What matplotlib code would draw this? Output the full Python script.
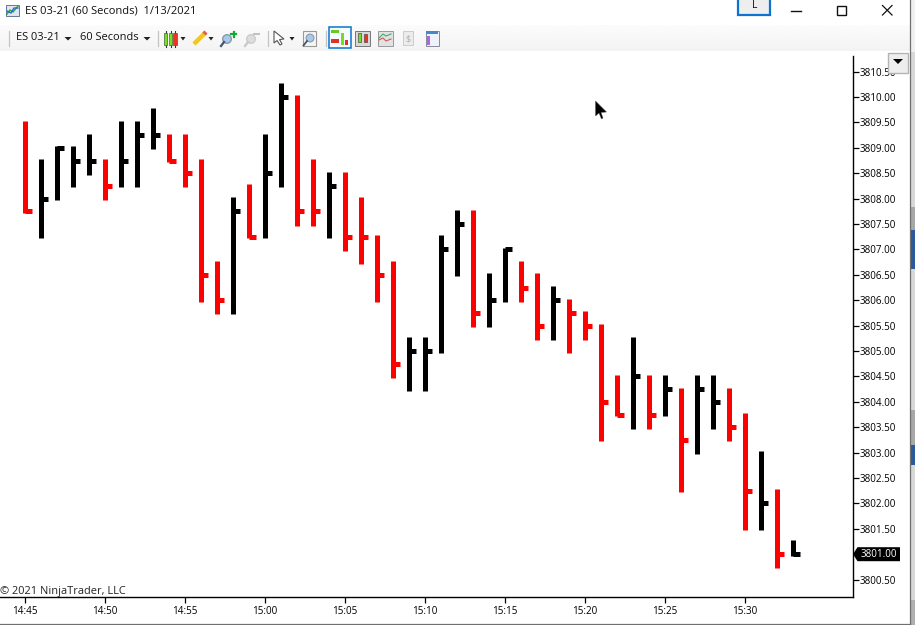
#!/usr/bin/python3
import matplotlib
matplotlib.use("Agg")
import matplotlib.pyplot as plt
import matplotlib.patches as patches
import numpy as np

# ES 03-21 one minute bars, 14:45 to 15:33
highs = [3809.50, 3808.75, 3809.00, 3809.00, 3809.25, 3808.75, 3809.50, 3809.50, 3809.75, 3809.25,
         3809.25, 3808.75, 3806.75, 3808.00, 3808.25, 3809.25, 3810.25, 3810.00, 3808.75, 3808.50,
         3808.50, 3808.00, 3807.25, 3806.75, 3805.25, 3805.25, 3807.25, 3807.75, 3807.75, 3806.50,
         3807.00, 3806.75, 3806.50, 3806.25, 3806.00, 3805.75, 3805.50, 3804.50, 3805.25, 3804.50,
         3804.50, 3804.25, 3804.50, 3804.50, 3804.25, 3803.75, 3803.00, 3802.25, 3801.25]
lows = [3807.75, 3807.25, 3808.00, 3808.25, 3808.50, 3808.00, 3808.25, 3808.25, 3809.00, 3808.75,
        3808.25, 3806.00, 3805.75, 3805.75, 3807.25, 3807.25, 3808.25, 3807.50, 3807.50, 3807.25,
        3807.00, 3806.75, 3806.00, 3804.50, 3804.25, 3804.25, 3805.00, 3806.50, 3805.50, 3805.50,
        3806.00, 3806.00, 3805.25, 3805.25, 3805.00, 3805.25, 3803.25, 3803.75, 3803.50, 3803.50,
        3803.75, 3802.25, 3803.00, 3803.50, 3803.25, 3801.50, 3801.50, 3800.75, 3801.00]
closes = [3807.75, 3808.00, 3809.00, 3808.75, 3808.75, 3808.25, 3808.75, 3809.25, 3809.25, 3808.75,
          3808.50, 3806.50, 3806.00, 3807.75, 3807.25, 3808.50, 3810.00, 3807.75, 3807.75, 3808.25,
          3807.25, 3807.25, 3806.50, 3804.75, 3805.00, 3805.00, 3807.00, 3807.50, 3805.75, 3806.00,
          3807.00, 3806.25, 3805.50, 3806.00, 3805.75, 3805.50, 3804.00, 3803.75, 3804.50, 3803.75,
          3804.25, 3803.25, 3804.25, 3804.00, 3803.50, 3802.25, 3802.00, 3801.00, 3801.00]
# 1 = up bar (black), 0 = down bar (red)
up = [0, 1, 1, 1, 1, 0, 1, 1, 1, 0,
      0, 0, 0, 1, 0, 1, 1, 0, 0, 1,
      0, 0, 0, 0, 1, 1, 1, 1, 0, 1,
      1, 0, 0, 1, 0, 0, 0, 0, 1, 0,
      1, 0, 1, 1, 0, 0, 1, 0, 1]
time_ticks = [0, 5, 10, 15, 20, 25, 30, 35, 40, 45]
time_labels = ["14:45", "14:50", "14:55", "15:00", "15:05", "15:10", "15:15", "15:20", "15:25", "15:30"]
price_ticks = [3800.5 + 0.5 * i for i in range(21)]
last_price = 3801.00

W, H = 915, 625
plt.rcParams['font.family'] = ['Open Sans', 'DejaVu Sans']
fig = plt.figure(figsize=(W / 100, H / 100), dpi=100, facecolor="white")

# price panel
ax = fig.add_axes([0, (H - 597) / H, 852.5 / W, (597 - 56) / H])
ax.set_xlim(-24.8 / 16, (852.5 - 24.8) / 16)
ax.set_ylim(3810 - (597 - 97) / 50.8, 3810 + (97 - 56) / 50.8)
minutes = np.arange(len(highs))
colors = ["black" if u else "#ff0000" for u in up]
# the platform paints bars a little past the price at both ends
end_pad = 0.03
ax.vlines(minutes, np.array(lows) - end_pad, np.array(highs) + end_pad, colors=colors, linewidth=3.6, capstyle="butt")
ax.hlines(closes, minutes, minutes + 0.42, colors=colors, linewidth=3.6, capstyle="butt")

for s in ["left", "top"]:
	ax.spines[s].set_visible(False)
for s in ["right", "bottom"]:
	ax.spines[s].set_linewidth(1.0)
ax.yaxis.tick_right()
ax.set_yticks(price_ticks)
ax.set_yticklabels(["%.2f" % p for p in price_ticks])
ax.set_xticks(time_ticks)
ax.set_xticklabels(time_labels)
ax.tick_params(axis="y", length=4, width=0.9, pad=1.2, labelsize=7.1)
ax.tick_params(axis="x", length=4, width=0.9, pad=2.5, labelsize=7.1)

# window chrome, drawn in pixel coordinates on top of the chart
ch = fig.add_axes([0, 0, 1, 1], facecolor="none")
ch.set_xlim(0, W)
ch.set_ylim(H, 0)
ch.axis("off")

def rect(x, y, w, h, fc, ec="none", lw=0, z=2):
	ch.add_patch(patches.Rectangle((x, y), w, h, facecolor=fc, edgecolor=ec, linewidth=lw, zorder=z))

def label(x, y, s, size=8.0, color="#111111", ha="left"):
	ch.text(x, y, s, fontsize=size, color=color, ha=ha, va="center", zorder=6)

def caret(x, y, w=3.5):
	ch.add_patch(patches.Polygon([(x - w, y - 1.5), (x + w, y - 1.5), (x, y + 2)], facecolor="#222222", zorder=5))

# title bar and toolbar
rect(0, 0, W, 25, "white")
ch.imshow(np.linspace(0.985, 0.955, 20).reshape(-1, 1), cmap="gray", vmin=0, vmax=1,
	extent=(0, 910, 51, 25), aspect="auto", zorder=1)
ch.set_xlim(0, W)
ch.set_ylim(H, 0)

# title icon
rect(6, 5, 13, 11, "#dfe6f2", "#667799", 0.7, 3)
ch.plot([7, 10, 13, 18], [14, 10, 12, 6], color="#22aa33", lw=1.0, zorder=4)
ch.plot([7, 11, 14, 18], [11, 13, 8, 8], color="#3366cc", lw=1.0, zorder=4)
label(25, 11, "ES 03-21 (60 Seconds)  1/13/2021", 8.0)

# L button and window buttons
rect(738, -2, 31.5, 16.5, "#eeeeee", "#0a74d0", 1.6, 3)
label(755, 6, "L", 7.5, ha="center")
ch.plot([791, 801], [10.5, 10.5], color="#111111", lw=1.0, zorder=4)
rect(836.5, 5.5, 9, 9, "none", "#111111", 1.0, 4)
ch.plot([882.5, 892], [5.5, 15], color="#111111", lw=0.9, zorder=4)
ch.plot([882.5, 892], [15, 5.5], color="#111111", lw=0.9, zorder=4)

# toolbar text and separators
for sx in [8.5, 157.5, 267.5, 325.5]:
	ch.plot([sx, sx], [31, 46], color="#c4c4c4", lw=0.9, zorder=3)
label(16, 38, "ES 03-21", 7.9)
caret(68, 38.5)
label(80, 38, "60 Seconds", 7.9)
caret(147, 38.5)

# candlestick icon
for cx, c in [(165.5, "#77e022"), (170.5, "#77e022"), (175, "#ee3322")]:
	ch.plot([cx, cx], [30.5, 46.5], color="#333333", lw=0.8, zorder=3)
	rect(cx - 1.8, 32.5, 3.6, 12, c, "#446633", 0.5, 4)
caret(183, 38.5, 2.5)
# pencil
ch.plot([194, 205], [44, 33], color="#f0c820", lw=3.2, solid_capstyle="butt", zorder=4)
ch.plot([204, 206], [34, 32], color="#e06050", lw=3.2, solid_capstyle="butt", zorder=4)
caret(211, 38.5, 2.5)
# zoom in and zoom out
ch.add_patch(patches.Circle((227, 39), 4.3, facecolor="#a8c8ec", edgecolor="#8899aa", lw=1.0, zorder=4))
ch.plot([224, 221], [42, 46], color="#445566", lw=1.6, zorder=4)
ch.plot([231, 236], [34, 34], color="#11aa33", lw=1.6, zorder=5)
ch.plot([233.5, 233.5], [31.5, 36.5], color="#11aa33", lw=1.6, zorder=5)
ch.add_patch(patches.Circle((251, 39), 4.3, facecolor="#dddddd", edgecolor="#cccccc", lw=1.0, zorder=4))
ch.plot([248, 245], [42, 46], color="#c8c8c8", lw=1.6, zorder=4)
ch.plot([254, 259], [33.5, 33.5], color="#c0c0c0", lw=1.4, zorder=5)
# pointer
ch.add_patch(patches.Polygon([(274, 31), (274, 43), (277, 40.5), (280, 45), (282, 44), (279.5, 39.5), (284, 39)],
	facecolor="white", edgecolor="#555555", lw=0.8, zorder=4))
caret(292, 38.5, 2.5)
# zoom box
rect(303, 31, 13, 15, "#f4f4f4", "#999999", 0.8, 3)
ch.add_patch(patches.Circle((310, 38), 3.9, facecolor="#a8c8ec", edgecolor="#8899aa", lw=0.8, zorder=4))
ch.plot([307, 303.5], [41, 45.5], color="#445566", lw=1.3, zorder=4)
# selected bar style icon
rect(328.5, 27, 22, 21, "#f6fbff", "#0a74d0", 1.1, 3)
rect(331, 30, 8, 3, "#66cc22", z=4)
rect(331, 39, 8, 3.5, "#dd3322", z=4)
rect(341, 33, 3, 12, "#77dd22", z=4)
rect(345, 40, 2.5, 5, "#dd3322", z=4)
# chart style icons
rect(354.5, 30.5, 15, 15, "#d8d8d8", "#777777", 0.7, 3)
rect(358, 33, 2.5, 9, "#77dd22", "#333333", 0.4, 4)
rect(364, 34, 2.5, 8, "#ee3322", "#333333", 0.4, 4)
rect(377.5, 30.5, 15, 15, "#dfe3e3", "#999999", 0.7, 3)
ch.plot([379, 383, 386, 391], [38, 34, 36, 34], color="#44aa66", lw=0.8, zorder=4)
ch.plot([379, 383, 386, 391], [40, 38, 41, 39], color="#dd5555", lw=0.8, zorder=4)
rect(403, 31, 10, 14, "#ececec", "#cccccc", 0.7, 3)
label(408, 38.5, "$", 6.5, "#aaaaaa", ha="center")
rect(425.5, 30.5, 13, 15, "#eef2fa", "#888899", 0.7, 3)
rect(426, 31, 12, 3, "#4488cc", z=4)
rect(427, 35.5, 3, 9, "#aa66ee", z=4)

# dropdown button over the price scale
rect(888, 52.5, 20, 20, "#eeeeee", "#b4b4b4", 1.0, 5)
ch.add_patch(patches.Polygon([(893, 59), (903, 59), (898, 64)], facecolor="black", zorder=6))

# mouse cursor
ch.add_patch(patches.Polygon([(595.5, 101), (595.5, 116), (599, 113), (601.5, 119), (603, 118), (601, 112.5), (606.5, 112)],
	facecolor="black", edgecolor="#555555", lw=0.3, zorder=6))

# copyright note
label(0, 591.5, "© 2021 NinjaTrader, LLC", 7.9, "#222222")

# last price marker follows the panel scale
tag_y = H - ax.transData.transform((0, last_price))[1]
ch.add_patch(patches.Polygon([(853, tag_y), (857.5, tag_y - 7), (900, tag_y - 7), (900, tag_y + 7), (857.5, tag_y + 7)],
	facecolor="black", zorder=5))
label(861, tag_y, "%.2f" % last_price, 7.1, "white")

# window edge and what shows behind it
rect(910, 0, 5, H, "#d8d8d8", z=3)
rect(910, 0, 5, 52, "#f0f0f0", z=3)
rect(910, 207, 5, 23, "#a8a8a8", z=3)
rect(910, 230, 5, 39, "#2a5a9a", z=3)
rect(910, 410, 5, 35, "#a8a8a8", z=3)
rect(910, 445, 5, 20, "#2a5a9a", z=3)
rect(910, 600, 5, 25, "#b0b0b0", z=3)
ch.plot([910, 910], [0, H], color="#707070", lw=0.9, zorder=4)
ch.plot([0, 910], [624, 624], color="#707070", lw=0.9, zorder=4)

plt.savefig("out.png", dpi=100)
